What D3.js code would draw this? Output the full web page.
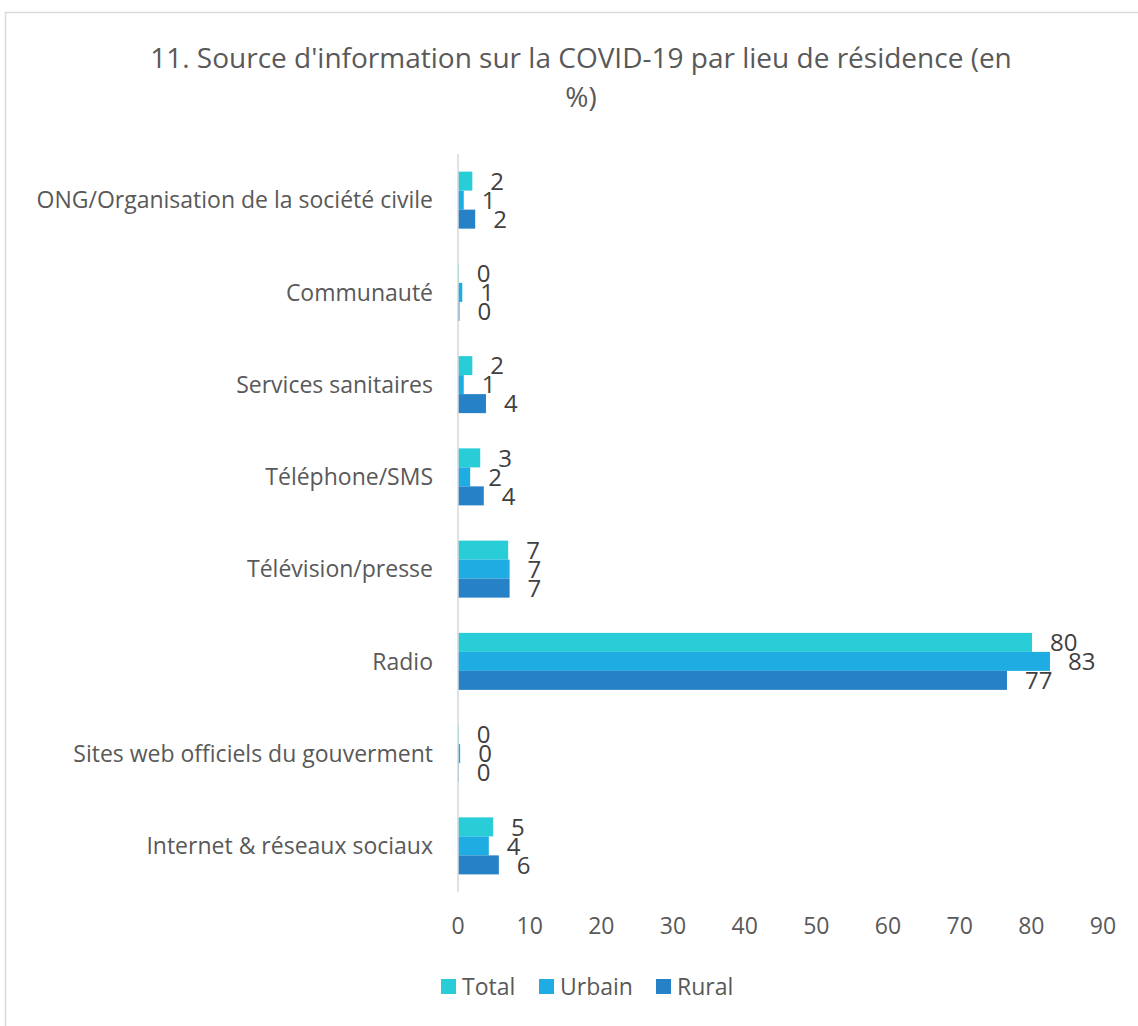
<!DOCTYPE html>
<html>
<head>
<meta charset="utf-8">
<script src="https://cdn.jsdelivr.net/npm/d3@7"></script>
<style>
  body { margin: 0; background: #fff; }
  svg text { font-family: "Open Sans", "Noto Sans", sans-serif; }
</style>
</head>
<body>
<svg id="chart" width="1138" height="1026"></svg>
<script>
// categories top to bottom
const categories = [
	"ONG/Organisation de la société civile",
	"Communauté",
	"Services sanitaires",
	"Téléphone/SMS",
	"Télévision/presse",
	"Radio",
	"Sites web officiels du gouverment",
	"Internet & réseaux sociaux"
]
const series = ["Total", "Urbain", "Rural"]
const total  = [2.0, 0.1, 2.0, 3.1, 7.0, 80.1, 0.1, 4.9]
const urbain = [0.8, 0.6, 0.8, 1.7, 7.2, 82.6, 0.3, 4.3]
const rural  = [2.4, 0.2, 3.9, 3.6, 7.2, 76.6, 0.1, 5.7]
const xTicks = [0, 10, 20, 30, 40, 50, 60, 70, 80, 90]
const colors = ["#29CDD7", "#1EACE2", "#2681C6"]

const svg = d3.select("#chart")

// chart frame
svg.append("rect")
	.attr("x", 5.5).attr("y", 12.5)
	.attr("width", 1200).attr("height", 1100)
	.attr("fill", "none")
	.attr("stroke", "#d9d9d9")
	.attr("stroke-width", 1.5)

// title
svg.append("text")
	.attr("x", 581).attr("y", 68)
	.attr("text-anchor", "middle")
	.attr("font-size", "28px")
	.attr("fill", "#595959")
	.text("11. Source d'information sur la COVID-19 par lieu de résidence (en")
svg.append("text")
	.attr("x", 581).attr("y", 107)
	.attr("text-anchor", "middle")
	.attr("font-size", "28px")
	.attr("fill", "#595959")
	.text("%)")

const x = d3.scaleLinear().domain([0, 90]).range([458, 1103])
const y = d3.scaleBand().domain(categories).range([154, 892])
	.paddingInner(0.382).paddingOuter(0.191)
const ySub = d3.scaleBand().domain(series).range([0, y.bandwidth()])

const rows = categories.map(function(c, i) {
	return { cat: c, vals: [total[i], urbain[i], rural[i]] }
})

// bars
const g = svg.append("g")
rows.forEach(function(r) {
	series.forEach(function(s, j) {
		const v = r.vals[j]
		const by = y(r.cat) + ySub(s)
		g.append("rect")
			.attr("x", x(0))
			.attr("y", by)
			.attr("width", x(v) - x(0))
			.attr("height", ySub.bandwidth())
			.attr("fill", colors[j])
		g.append("text")
			.attr("x", x(v) + 18)
			.attr("y", by + ySub.bandwidth() / 2)
			.attr("dy", "0.36em")
			.attr("font-size", "24px")
			.attr("fill", "#404040")
			.text(d3.format(".0f")(v))
	})
})

// vertical axis line
svg.append("line")
	.attr("x1", x(0)).attr("x2", x(0))
	.attr("y1", 154).attr("y2", 892)
	.attr("stroke", "#d9d9d9")
	.attr("stroke-width", 1.5)

// category labels
svg.selectAll(".cat")
	.data(categories)
	.enter().append("text")
	.attr("class", "cat")
	.attr("x", 433)
	.attr("y", function(d) { return y(d) + y.bandwidth() / 2 })
	.attr("dy", "0.36em")
	.attr("text-anchor", "end")
	.attr("font-size", "23px")
	.attr("fill", "#595959")
	.text(function(d) { return d })

// x tick labels
svg.selectAll(".tick")
	.data(xTicks)
	.enter().append("text")
	.attr("class", "tick")
	.attr("x", function(d) { return x(d) })
	.attr("y", 926)
	.attr("dy", "0.36em")
	.attr("text-anchor", "middle")
	.attr("font-size", "23px")
	.attr("fill", "#595959")
	.text(function(d) { return d })

// legend
const legX = [441, 539, 656]
series.forEach(function(s, j) {
	svg.append("rect")
		.attr("x", legX[j]).attr("y", 979)
		.attr("width", 15).attr("height", 15)
		.attr("fill", colors[j])
	svg.append("text")
		.attr("x", legX[j] + 21).attr("y", 987)
		.attr("dy", "0.36em")
		.attr("font-size", "23px")
		.attr("fill", "#595959")
		.text(s)
})
</script>
</body>
</html>
